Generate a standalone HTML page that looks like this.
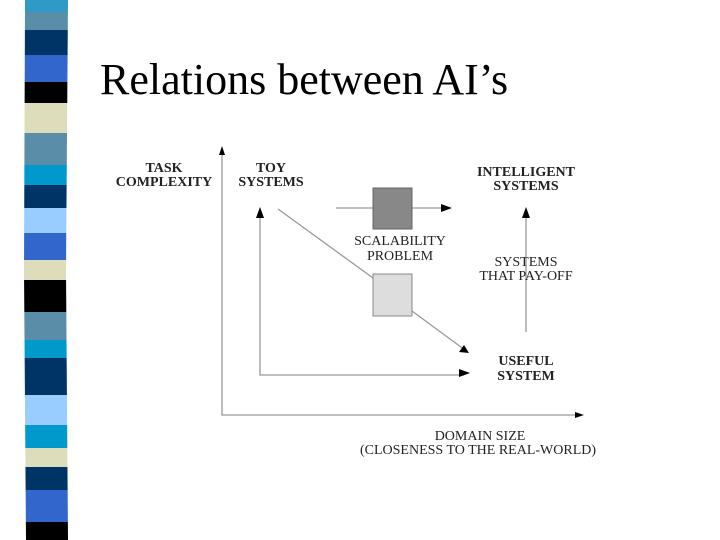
<!DOCTYPE html>
<html><head><style>
body{margin:0;width:720px;height:540px;background:#fff;overflow:hidden;position:relative}
h1{position:absolute;left:100px;top:54px;margin:0;font:normal 44px "Liberation Serif",serif;color:#000}
</style></head><body>
<svg width="720" height="540" style="position:absolute;left:0;top:0">
<defs><clipPath id="c"><path d="M25 0 L68 0 L66 270 L68 540 L26 540 L24 270 Z"/></clipPath></defs>
<g clip-path="url(#c)">
<rect x="0" y="0" width="80" height="12" fill="#2f9ac6"/>
<rect x="0" y="12" width="80" height="18" fill="#5a8ea8"/>
<rect x="0" y="30" width="80" height="25" fill="#003366"/>
<rect x="0" y="55" width="80" height="27" fill="#3366cc"/>
<rect x="0" y="82" width="80" height="21" fill="#000"/>
<rect x="0" y="103" width="80" height="30" fill="#ddddbb"/>
<rect x="0" y="133" width="80" height="32" fill="#5a8ea8"/>
<rect x="0" y="165" width="80" height="20" fill="#0099cc"/>
<rect x="0" y="185" width="80" height="23" fill="#003366"/>
<rect x="0" y="208" width="80" height="25" fill="#99ccff"/>
<rect x="0" y="233" width="80" height="27" fill="#3366cc"/>
<rect x="0" y="260" width="80" height="20" fill="#ddddbb"/>
<rect x="0" y="280" width="80" height="32" fill="#000"/>
<rect x="0" y="312" width="80" height="28" fill="#5a8ea8"/>
<rect x="0" y="340" width="80" height="18" fill="#0099cc"/>
<rect x="0" y="358" width="80" height="37" fill="#003366"/>
<rect x="0" y="395" width="80" height="30" fill="#99ccff"/>
<rect x="0" y="425" width="80" height="23" fill="#0099cc"/>
<rect x="0" y="448" width="80" height="19" fill="#ddddbb"/>
<rect x="0" y="467" width="80" height="23" fill="#003366"/>
<rect x="0" y="490" width="80" height="32" fill="#3366cc"/>
<rect x="0" y="522" width="80" height="18" fill="#000"/>
</g>
<g stroke="#999" stroke-width="1.3" fill="none">
<path d="M222 152 V415 H578"/>
<path d="M260 214 V375 H464"/>
<path d="M336 208 H446"/>
<path d="M278 209 L373 278"/>
<path d="M412 311 L465 350"/>
<path d="M526 332 V214"/>
</g>
<g fill="#000">
<path d="M222 146 l-3 9 h6z"/>
<path d="M584 415 l-9 -3 v6z"/>
<path d="M260 207 l-4 11 h8z"/>
<path d="M470 373 l-11 -4 v8z"/>
<path d="M452 208 l-11 -4 v8z"/>
<path d="M526 207 l-4 11 h8z"/>
<path d="M469 353 l-10 -1 l5 -7z"/>
</g>
<rect x="373" y="188" width="39" height="41" fill="#888" stroke="#666"/>
<rect x="373" y="274" width="39" height="42" fill="#ddd" stroke="#888"/>
<g font-family="Liberation Serif,serif" font-size="14" font-weight="bold" fill="#222" text-anchor="middle">
<text x="164" y="172">TASK</text><text x="164" y="186">COMPLEXITY</text>
<text x="271" y="172">TOY</text><text x="271" y="186">SYSTEMS</text>
<text x="526" y="176">INTELLIGENT</text><text x="526" y="190">SYSTEMS</text>
<text x="526" y="365">USEFUL</text><text x="526" y="380">SYSTEM</text>
</g>
<g font-family="Liberation Serif,serif" font-size="14" fill="#222" text-anchor="middle">
<text x="400" y="245">SCALABILITY</text><text x="400" y="260">PROBLEM</text>
<text x="526" y="266">SYSTEMS</text><text x="526" y="280">THAT PAY-OFF</text>
<text x="480" y="440">DOMAIN SIZE</text><text x="478" y="454">(CLOSENESS TO THE REAL-WORLD)</text>
</g>
</svg>
<h1>Relations between AI’s</h1>
</body></html>
